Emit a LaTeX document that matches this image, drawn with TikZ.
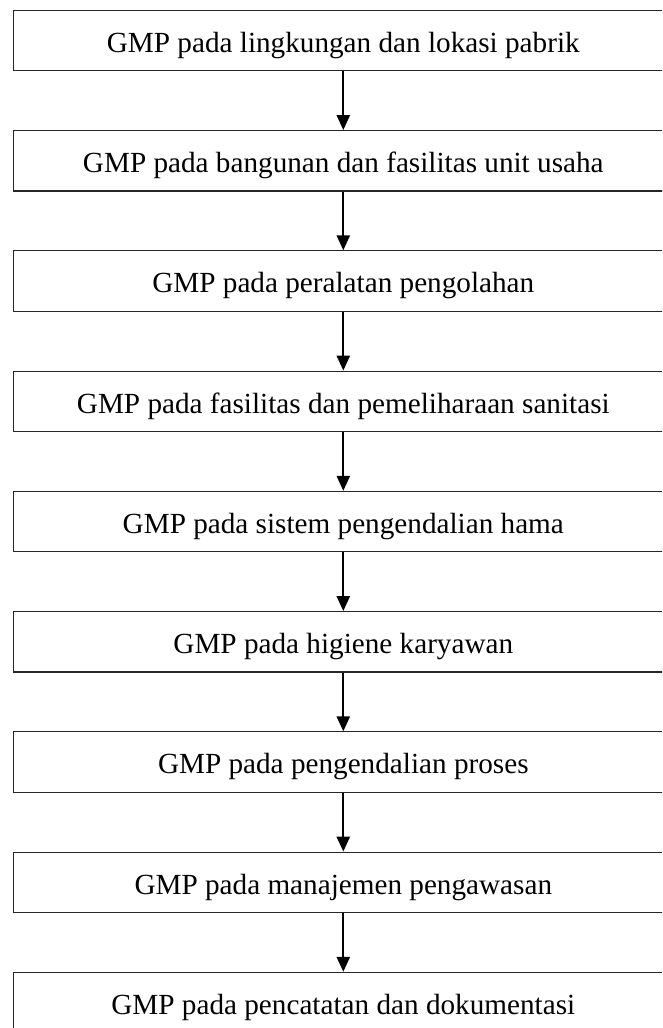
\documentclass[tikz,border=0pt]{standalone}
\usepackage{fontspec}
\setmainfont{Liberation Serif}
\usetikzlibrary{arrows.meta}
\begin{document}
\begin{tikzpicture}[x=1pt,y=-1pt,
  gmpbox/.style={draw=black!85,line width=1.1pt,rectangle,minimum width=659.5pt,minimum height=60.4pt,
    inner sep=0pt,font=\fontsize{29.2}{32}\selectfont,text height=23.6pt,text depth=0pt},
  flowarrow/.style={line width=1.8pt,-{Triangle[width=13.3pt,length=15pt]},shorten >=0pt,shorten <=0pt}]
\clip (0,0) rectangle (662,1028);
\useasboundingbox (0,0) rectangle (662,1028);
\foreach \i/\t in {0/{GMP pada lingkungan dan lokasi pabrik},
                   1/{GMP pada bangunan dan fasilitas unit usaha},
                   2/{GMP pada peralatan pengolahan},
                   3/{GMP pada fasilitas dan pemeliharaan sanitasi},
                   4/{GMP pada sistem pengendalian hama},
                   5/{GMP pada higiene karyawan},
                   6/{GMP pada pengendalian proses},
                   7/{GMP pada manajemen pengawasan},
                   8/{GMP pada pencatatan dan dokumentasi}}{
  \node[gmpbox] (b\i) at (343.3,{40.5+120.25*\i}) {\t};
}
\foreach \i [evaluate=\i as \j using int(\i+1)] in {0,...,7}{
  \draw[flowarrow] (b\i.south) -- (b\j.north);
}
\end{tikzpicture}
\end{document}
